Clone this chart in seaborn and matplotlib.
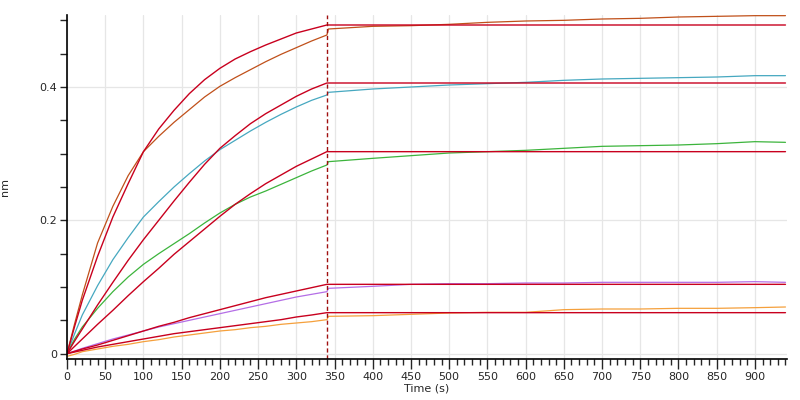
import numpy as np
import pandas as pd
import seaborn as sns
import matplotlib.pyplot as plt
from matplotlib.ticker import MultipleLocator

# timpi (s) pentru asociere si disociere
t_assoc = [0, 10, 20, 40, 60, 80, 100, 120, 140, 160, 180, 200, 220, 240, 260, 280, 300, 320, 340]
t_dissoc = [342, 400, 450, 500, 550, 600, 650, 700, 750, 800, 850, 900, 940]

# curbele masurate (nm)
d_brown = [0, 0.045, 0.088, 0.166, 0.221, 0.267, 0.303, 0.326, 0.347, 0.366, 0.385, 0.401, 0.414, 0.426,
           0.438, 0.449, 0.459, 0.469, 0.478,
           0.487, 0.491, 0.492, 0.494, 0.497, 0.499, 0.500, 0.502, 0.503, 0.505, 0.506, 0.507, 0.507]
d_teal = [0, 0.030, 0.058, 0.102, 0.141, 0.174, 0.205, 0.228, 0.250, 0.270, 0.289, 0.306, 0.320, 0.334,
          0.347, 0.359, 0.370, 0.380, 0.388,
          0.392, 0.397, 0.400, 0.403, 0.405, 0.407, 0.410, 0.412, 0.413, 0.414, 0.415, 0.417, 0.417]
d_green = [0, 0.022, 0.040, 0.068, 0.093, 0.115, 0.134, 0.150, 0.165, 0.180, 0.196, 0.211, 0.224, 0.235,
           0.244, 0.254, 0.264, 0.274, 0.283,
           0.288, 0.293, 0.297, 0.301, 0.303, 0.305, 0.308, 0.311, 0.312, 0.313, 0.315, 0.318, 0.317]
d_purple = [0, 0.004, 0.008, 0.015, 0.022, 0.028, 0.034, 0.040, 0.045, 0.050, 0.055, 0.060, 0.065, 0.070,
            0.075, 0.080, 0.085, 0.089, 0.093,
            0.098, 0.101, 0.104, 0.105, 0.105, 0.106, 0.106, 0.107, 0.107, 0.107, 0.107, 0.108, 0.107]
d_orange = [-0.004, -0.001, 0.003, 0.007, 0.011, 0.014, 0.018, 0.021, 0.025, 0.028, 0.031, 0.034, 0.036, 0.039,
            0.041, 0.044, 0.046, 0.048, 0.051,
            0.056, 0.057, 0.059, 0.061, 0.062, 0.062, 0.066, 0.067, 0.067, 0.068, 0.068, 0.069, 0.070]

# curbele de fit (asociere), apoi platou
f_brown = [0, 0.041, 0.080, 0.146, 0.205, 0.255, 0.303, 0.337, 0.365, 0.390, 0.411, 0.428, 0.442, 0.453,
           0.463, 0.472, 0.481, 0.487, 0.493]
f_teal = [0, 0.019, 0.037, 0.073, 0.107, 0.140, 0.171, 0.200, 0.229, 0.257, 0.284, 0.308, 0.327, 0.345,
          0.360, 0.373, 0.386, 0.397, 0.406]
f_green = [0, 0.011, 0.022, 0.044, 0.065, 0.087, 0.108, 0.128, 0.149, 0.168, 0.187, 0.206, 0.224, 0.240,
           0.255, 0.268, 0.281, 0.292, 0.303]
f_purple = [0, 0.0035, 0.007, 0.013, 0.020, 0.027, 0.034, 0.041, 0.047, 0.054, 0.060, 0.066, 0.072, 0.078,
            0.084, 0.089, 0.094, 0.099, 0.104]
f_orange = [0, 0.0025, 0.005, 0.010, 0.014, 0.018, 0.022, 0.026, 0.030, 0.033, 0.036, 0.039, 0.042, 0.045,
            0.048, 0.051, 0.055, 0.058, 0.0615]
t_end = 940

data_colors = ["#c0501a", "#46a8c0", "#3cb43c", "#b46ee6", "#f5a03c"]
fit_color = "#c8001e"

sns.set_style("white")
plt.rcParams["font.family"] = ["DejaVu Sans"]

fig = plt.figure(figsize=(8, 4), dpi=100)
ax = fig.add_axes([0.08375, 0.1025, 0.9, 0.86])

t_all = t_assoc + t_dissoc
for d, c in zip([d_brown, d_teal, d_green, d_purple, d_orange], data_colors):
    sns.lineplot(x=t_all, y=d, color=c, lw=0.9, ax=ax)

for f in [f_brown, f_teal, f_green, f_purple, f_orange]:
    sns.lineplot(x=t_assoc + [t_end], y=f + [f[-1]], color=fit_color, lw=1.0, ax=ax)

ax.axvline(340, color="#a01010", ls=(0, (3, 2)), lw=1)

ax.set_xlim(0, 942)
ax.set_ylim(-0.008, 0.508)
ax.xaxis.set_major_locator(MultipleLocator(50))
ax.xaxis.set_minor_locator(MultipleLocator(10))
ax.yaxis.set_major_locator(MultipleLocator(0.2))
ax.yaxis.set_minor_locator(MultipleLocator(0.05))
ax.set_yticklabels(["0" if abs(v) < 1e-9 else f"{v:.1f}" for v in ax.get_yticks()])
ax.grid(True, which="major", color="#e6e6e6", lw=0.9)
ax.set_axisbelow(True)

for s in ["top", "right"]:
    ax.spines[s].set_visible(False)
for s in ["left", "bottom"]:
    ax.spines[s].set_color("black")
    ax.spines[s].set_linewidth(1.2)

ax.tick_params(axis="x", which="major", length=7, width=1, direction="out", labelsize=8, pad=2, bottom=True)
ax.tick_params(axis="x", which="minor", length=4, width=1, direction="out", bottom=True)
ax.tick_params(axis="y", which="both", length=5, width=1, direction="out", labelsize=8, pad=2, left=True)

ax.set_xlabel("Time (s)", fontsize=8)
ax.set_ylabel("nm", fontsize=8)
ax.xaxis.set_label_coords(0.5, -0.072)
ax.yaxis.set_label_coords(-0.079, 0.5)

fig.savefig("out.png", dpi=100)
